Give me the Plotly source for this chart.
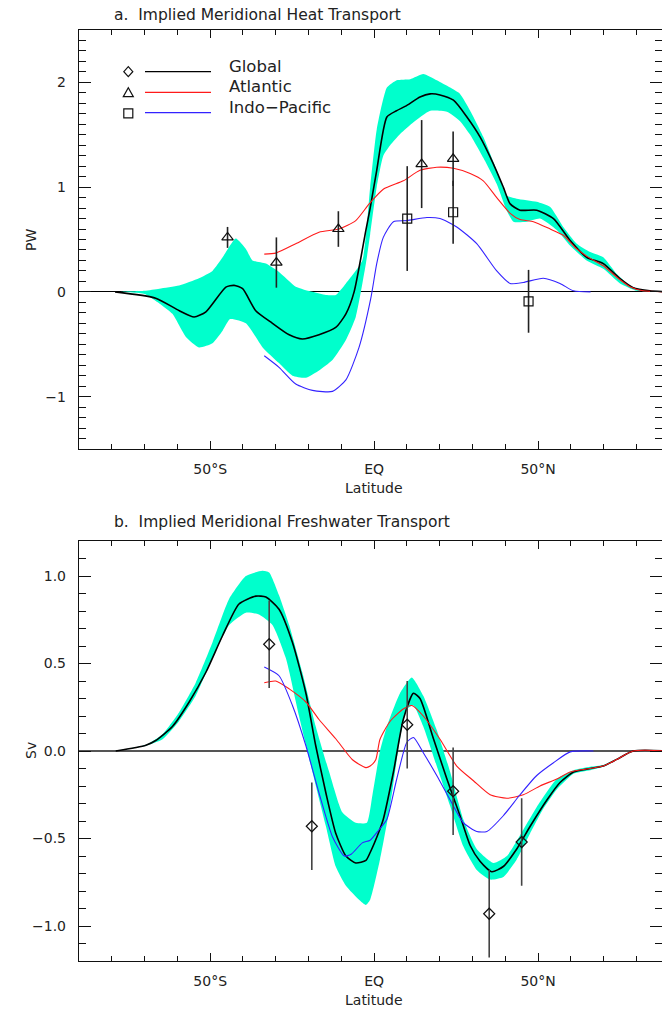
import plotly.graph_objects as go

# ---------------- data ----------------
# Panel a: implied meridional heat transport (PW)
heat_glob_lat = [-79, -66.6, -59.4, -54.9, -51.3, -45.2, -42.7, -40.1, -36.1, -31, -25.9, -21.9,
                 -16.8, -11.7, -8.6, -6.1, -2.5, -1.2, 0.8, 3.9, 6.9, 10, 14, 17.1, 20.1, 24.2,
                 28.3, 32.3, 36.4, 39.4, 41.5, 44.5, 49.6, 54.7, 59.8, 64.8, 69.9, 75, 79, 84.1, 90]
heat_glob = [0, -0.06, -0.18, -0.24, -0.19, 0.046, 0.062, 0.03, -0.18, -0.30, -0.41, -0.45,
             -0.41, -0.34, -0.21, 0, 0.59, 0.80, 1.16, 1.67, 1.73, 1.78, 1.86, 1.89, 1.88, 1.83,
             1.67, 1.48, 1.22, 1.0, 0.84, 0.78, 0.78, 0.70, 0.49, 0.33, 0.27, 0.126, 0.04, 0.01, 0]

heat_up_lat = [-78, -70, -65.5, -59.5, -53.4, -49.3, -46.2, -42.2, -39.1, -37.1, -33, -29, -23.9,
               -18.8, -14.7, -11.7, -8.6, -3.6, -1.2, 0.8, 3.9, 6.9, 11, 15, 19.1, 23.2, 26.2,
               29.3, 33.3, 37.4, 40.4, 43.5, 49.6, 53.7, 57.7, 61.8, 65.9, 69.9, 74, 78, 82.1, 90]
heat_up = [0, 0.01, 0.03, 0.06, 0.13, 0.20, 0.33, 0.51, 0.41, 0.30, 0.27, 0.19, 0.05,
           0, -0.03, -0.03, 0.08, 0.30, 1.0, 1.55, 1.95, 2.02, 2.03, 2.08, 2.02, 1.95, 1.89,
           1.73, 1.48, 1.16, 0.92, 0.89, 0.86, 0.81, 0.62, 0.46, 0.38, 0.33, 0.17, 0.06, 0.01, 0]

heat_lo_lat = [-78, -70, -65.5, -61.5, -57.4, -53.4, -49.3, -46.2, -43.9, -39.1, -34, -29, -24.9,
               -20.8, -16.8, -12.7, -8.6, -5.6, -2.5, -1.2, 0.8, 2.8, 4.9, 8, 12, 17.1, 22.2,
               26.2, 29.3, 33.3, 37.4, 40.4, 42.5, 46.5, 50.6, 55.7, 59.8, 64.8, 69.9, 75, 80.1, 90]
heat_lo = [0, -0.02, -0.11, -0.21, -0.43, -0.53, -0.49, -0.37, -0.26, -0.30, -0.53, -0.68, -0.80,
           -0.82, -0.75, -0.65, -0.46, -0.24, 0.27, 0.55, 1.0, 1.30, 1.40, 1.51, 1.62, 1.73, 1.72,
           1.63, 1.50, 1.28, 1.03, 0.78, 0.67, 0.67, 0.70, 0.59, 0.44, 0.30, 0.22, 0.08, 0.01, 0]

heat_atl_lat = [-33.5, -30, -23.9, -16.8, -10.7, -5.6, -1.5, 2.8, 8.9, 14, 19.1, 24.2, 29.3, 33.3,
                37.4, 41.5, 44.5, 48.6, 53.7, 57.7, 61.8, 65.9, 69.9, 74, 78, 82, 90]
heat_atl = [0.36, 0.37, 0.46, 0.57, 0.60, 0.68, 0.84, 0.98, 1.06, 1.16, 1.19, 1.18, 1.13, 1.06,
            0.90, 0.75, 0.69, 0.67, 0.60, 0.54, 0.41, 0.32, 0.25, 0.14, 0.05, 0.01, 0]

heat_ip_lat = [-33.5, -29, -23.9, -18.8, -12.7, -8.6, -4.6, -1.0, 0.8, 2.8, 5.9, 10, 16.1, 20.1,
               25.2, 31.3, 37.4, 41.5, 45.5, 51.6, 56.7, 60.8, 66]
heat_ip = [-0.61, -0.72, -0.88, -0.94, -0.95, -0.84, -0.53, -0.06, 0.27, 0.52, 0.67, 0.68, 0.71,
           0.70, 0.62, 0.46, 0.20, 0.08, 0.09, 0.13, 0.08, 0.01, 0]

heat_atl_obs_lat = [-44.7, -29.8, -10.9, 14.5, 24.1]
heat_atl_obs = [0.52, 0.28, 0.60, 1.22, 1.27]
heat_atl_obs_err = [0.10, 0.24, 0.17, 0.42, 0.26]

heat_ip_obs_lat = [10.1, 24.1, 47.1]
heat_ip_obs = [0.70, 0.76, -0.09]
heat_ip_obs_err = [0.50, 0.30, 0.30]

# Panel b: implied meridional freshwater transport (Sv)
fw_glob_lat = [-78.8, -69.6, -66.6, -61.5, -56.4, -51.3, -46.2, -41.2, -36.1, -33, -29, -24.9,
               -20.8, -17.8, -14.7, -11.7, -8.6, -5.6, -2.5, -1.2, 1.5, 2.8, 5.9, 8.9, 12, 14,
               18.1, 22.2, 26.2, 29.3, 32.3, 35.9, 39.4, 43.5, 47.6, 52.7, 56.7, 60.8, 65.9,
               69.9, 74, 79, 90]
fw_glob = [0, 0.033, 0.06, 0.14, 0.28, 0.45, 0.66, 0.84, 0.885, 0.88, 0.81, 0.62,
           0.33, 0.03, -0.24, -0.47, -0.60, -0.64, -0.625, -0.58, -0.46, -0.39, -0.12, 0.18, 0.33,
           0.30, 0.07, -0.16, -0.37, -0.54, -0.63, -0.69, -0.66, -0.56, -0.43, -0.28, -0.18, -0.12,
           -0.10, -0.086, -0.048, 0, 0]

fw_up_lat = [-78.8, -69.6, -64.5, -59.5, -54.4, -49.3, -44.2, -39.1, -34.1, -32, -29, -25.9,
             -21.9, -17.8, -13.7, -9.7, -5.6, -2.2, -0.5, 1.8, 3.9, 7.9, 11.5, 15, 19.1, 23.2,
             27.2, 31.3, 36.4, 40.5, 45.5, 49.6, 55.7, 60.8, 65.9, 69.9, 74, 79, 90]
fw_up = [0, 0.035, 0.096, 0.22, 0.39, 0.62, 0.87, 1.00, 1.03, 1.02, 0.89, 0.72,
         0.45, 0.14, -0.12, -0.35, -0.41, -0.41, -0.25, 0.0, 0.14, 0.33, 0.42, 0.315, 0.12, -0.12,
         -0.39, -0.56, -0.64, -0.60, -0.45, -0.32, -0.16, -0.11, -0.09, -0.08, -0.045, 0, 0]

fw_lo_lat = [-78.8, -69.6, -64.5, -59.5, -54.4, -49.3, -44.2, -39.1, -35.1, -31, -26.9, -22.9,
             -18.8, -14.7, -11.7, -8.6, -4.6, -2.5, -1.2, 1.8, 4.9, 7.9, 10, 12, 15, 19.1, 23.2,
             27.2, 31.3, 35.4, 39.4, 43.5, 47.6, 51.6, 55.7, 60.8, 65.9, 69.9, 74, 79, 90]
fw_lo = [0, 0.03, 0.067, 0.17, 0.315, 0.53, 0.72, 0.79, 0.78, 0.72, 0.53, 0.20,
         -0.12, -0.43, -0.66, -0.77, -0.85, -0.88, -0.85, -0.62, -0.31, 0.07, 0.24, 0.26, 0.14,
         -0.086, -0.315, -0.545, -0.68, -0.735, -0.72, -0.62, -0.47, -0.33, -0.22, -0.13, -0.11,
         -0.09, -0.05, 0, 0]

fw_atl_lat = [-33.5, -30, -25.9, -20.8, -16.8, -11.7, -6.6, -2.5, -1.2, 0.5, 1.8, 4.9, 8.9, 11.5,
              15, 20.1, 25.2, 30.3, 35.4, 40.5, 45.5, 50.6, 55.7, 59.8, 65.9, 69.9, 74, 79, 90]
fw_atl = [0.39, 0.40, 0.355, 0.28, 0.18, 0.07, -0.05, -0.095, -0.086, -0.05, 0.067, 0.17, 0.24,
          0.26, 0.20, 0.067, -0.086, -0.17, -0.25, -0.27, -0.25, -0.20, -0.16, -0.12, -0.10,
          -0.086, -0.048, 0, 0]

fw_ip_lat = [-33.5, -29, -24.9, -20.8, -16.8, -12.7, -9.1, -7, -3.6, -1.2, 1.5, 3.9, 6.9, 10, 12,
             15, 19.1, 23.2, 27.2, 31.3, 34.4, 39.4, 44.5, 49.6, 54.7, 59.8, 66.9]
fw_ip = [0.48, 0.43, 0.26, 0.03, -0.24, -0.49, -0.60, -0.59, -0.525, -0.51, -0.45, -0.39, -0.16,
         0.05, 0.077, -0.01, -0.14, -0.28, -0.41, -0.46, -0.46, -0.37, -0.25, -0.14, -0.067,
         -0.005, 0]

fw_obs_lat = [-32, -19, 10.1, 24.1, 35.1, 45]
fw_obs = [0.61, -0.43, 0.15, -0.23, -0.93, -0.52]
fw_obs_err = [0.25, 0.25, 0.25, 0.25, 0.25, 0.25]

x_tickvals = [-50, 0, 50]
x_ticktext = ["50°S", "EQ", "50°N"]
heat_tickvals = [-1, 0, 1, 2]
fw_tickvals = [-1.0, -0.5, 0.0, 0.5, 1.0]

# ---------------- styling ----------------
W, H = 662, 1010
L = 79
PW_ = W - L
BAND = "#00FFCC"
RED = "#FF1A1A"
BLUE = "#3322FF"
FONT = "DejaVu Sans"
TXT = "#222222"


def px(xp):
    return (xp - L) / PW_


def py(yp):
    return 1 - yp / H


fig = go.Figure()


def add_band(lat_u, up, lat_l, lo, xa, ya):
    fig.add_trace(go.Scatter(
        x=lat_u + lat_l[::-1], y=up + lo[::-1], mode="lines", fill="toself",
        fillcolor=BAND, line=dict(width=0, shape="spline", smoothing=0.5),
        xaxis=xa, yaxis=ya, hoverinfo="skip", showlegend=False))


def add_line(lat, v, color, width, xa, ya):
    fig.add_trace(go.Scatter(
        x=lat, y=v, mode="lines", line=dict(color=color, width=width, shape="spline", smoothing=0.6),
        xaxis=xa, yaxis=ya, showlegend=False))


def add_obs(lat, v, err, symbol, size, color, xa, ya):
    fig.add_trace(go.Scatter(
        x=lat, y=v, mode="markers",
        marker=dict(symbol=symbol, size=size, color="#111111",
                    line=dict(color="#111111", width=1.2)),
        error_y=dict(type="data", array=err, visible=True, width=0, thickness=1.6, color=color),
        xaxis=xa, yaxis=ya, showlegend=False))


# Panel a
add_band(heat_up_lat, heat_up, heat_lo_lat, heat_lo, "x", "y")
add_line(heat_glob_lat, heat_glob, "#000000", 1.6, "x", "y")
add_line(heat_atl_lat, heat_atl, RED, 1.1, "x", "y")
add_line(heat_ip_lat, heat_ip, BLUE, 1.1, "x", "y")
add_obs(heat_atl_obs_lat, heat_atl_obs, heat_atl_obs_err, "triangle-up-open", 10, "#222222", "x", "y")
add_obs(heat_ip_obs_lat, heat_ip_obs, heat_ip_obs_err, "square-open", 9, "#222222", "x", "y")

# Panel b
add_band(fw_up_lat, fw_up, fw_lo_lat, fw_lo, "x2", "y2")
add_line(fw_glob_lat, fw_glob, "#000000", 1.6, "x2", "y2")
add_line(fw_atl_lat, fw_atl, RED, 1.1, "x2", "y2")
add_line(fw_ip_lat, fw_ip, BLUE, 1.1, "x2", "y2")
add_obs(fw_obs_lat, fw_obs, fw_obs_err, "diamond-open", 8.5, "#444444", "x2", "y2")

tickfont = dict(family=FONT, size=14, color=TXT)

xcommon = dict(range=[-90, 87.8], tickmode="array", tickvals=x_tickvals, ticktext=x_ticktext,
               ticks="inside", ticklen=8, tickwidth=1.2, tickcolor="#111111",
               showline=True, linecolor="#111111", linewidth=1.4, mirror="ticks",
               showgrid=False, zeroline=False, tickfont=tickfont, ticklabelstandoff=7,
               minor=dict(tickmode="linear", tick0=0, dtick=10, ticks="inside", ticklen=5,
                          tickwidth=1.2, tickcolor="#111111", showgrid=False),
               domain=[0, 1], layer="above traces")

ycommon = dict(ticks="inside", ticklen=12, tickwidth=1.2, tickcolor="#111111",
               showline=True, linecolor="#111111", linewidth=1.4, mirror="ticks",
               showgrid=False, tickfont=tickfont, ticklabelstandoff=9, layer="above traces",
               minor=dict(tickmode="linear", tick0=0, dtick=0.1, ticks="inside", ticklen=7,
                          tickwidth=1.2, tickcolor="#111111", showgrid=False))

fig.update_layout(
    width=W, height=H, margin=dict(l=L, r=0, t=0, b=0),
    paper_bgcolor="white", plot_bgcolor="white", showlegend=False,
    font=dict(family=FONT, size=14, color=TXT),
    xaxis=dict(anchor="y", **xcommon),
    yaxis=dict(anchor="x", domain=[py(449), py(30)], range=[-1.5, 2.5], tickmode="array",
               tickvals=heat_tickvals, zeroline=True, zerolinecolor="#000000", zerolinewidth=1.2,
               **ycommon),
    xaxis2=dict(anchor="y2", **xcommon),
    yaxis2=dict(anchor="x2", domain=[py(961), py(541)], range=[-1.2, 1.2], tickmode="array",
                tickvals=fw_tickvals, tickformat=".1f", zeroline=True, zerolinecolor="#555555",
                zerolinewidth=1.6, **ycommon),
)

ann = []


def text(s, xp, yp, anchor="left", angle=0, size=15):
    ann.append(dict(text=s, x=px(xp), y=py(yp), xref="paper", yref="paper", showarrow=False,
                    xanchor=anchor, yanchor="middle", textangle=angle,
                    font=dict(family=FONT, size=size, color=TXT)))


text("a.&nbsp;&nbsp;Implied Meridional Heat Transport", 112, 15, size=15.5)
text("b.&nbsp;&nbsp;Implied Meridional Freshwater Transport", 112, 522, size=15.5)
text("Latitude", 374, 488, anchor="center", size=14)
text("Latitude", 374, 1000, anchor="center", size=14)
text("PW", 31, 240, anchor="center", angle=-90, size=14)
text("Sv", 31, 751, anchor="center", angle=-90, size=14)
text("Global", 227, 66, size=16.5)
text("Atlantic", 227, 87, size=16.5)
text("Indo\u2212Pacific", 227, 108, size=16.5)

shapes = []
for ypix, col in [(71.7, "#000000"), (92.3, RED), (112.7, BLUE)]:
    shapes.append(dict(type="line", xref="paper", yref="paper", x0=px(145), x1=px(211),
                       y0=py(ypix), y1=py(ypix), line=dict(color=col, width=1.3)))
mk = dict(xref="paper", yref="paper", xsizemode="pixel", ysizemode="pixel",
          line=dict(color="#111111", width=1.2), fillcolor="rgba(0,0,0,0)")
shapes.append(dict(type="path", xanchor=px(128.3), yanchor=py(71.7),
                   path="M0,5 L4.5,0 L0,-5 L-4.5,0 Z", **mk))
shapes.append(dict(type="path", xanchor=px(128.3), yanchor=py(92.7),
                   path="M-5,-4 L5,-4 L0,5 Z", **mk))
shapes.append(dict(type="rect", xanchor=px(128.3), yanchor=py(113.3),
                   x0=-4.5, x1=4.5, y0=-4.5, y1=4.5, **mk))

fig.update_layout(annotations=ann, shapes=shapes)

fig.write_html("out.html")
